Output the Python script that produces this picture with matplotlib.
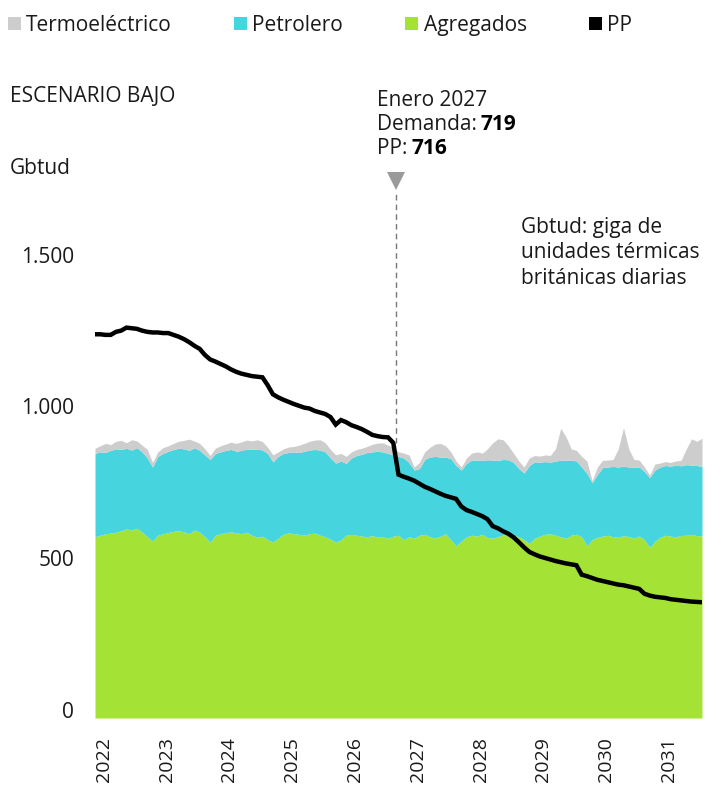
import numpy as np
import matplotlib
matplotlib.use("Agg")
import matplotlib.pyplot as plt
from matplotlib.patches import Patch

plt.rcParams['font.family'] = ['Open Sans', 'DejaVu Sans']

# ---- data (Gbtud, monthly from Jan 2022) ----
agregados = [570, 575, 580, 582, 585, 590, 596, 592, 598, 585, 570, 556,
             575, 580, 584, 588, 590, 586, 580, 592, 585, 570, 552, 575,
             580, 584, 586, 583, 580, 585, 575, 568, 572, 560, 553, 565,
             578, 583, 580, 578, 576, 580, 582, 575, 570, 562, 552, 560,
             575, 578, 575, 572, 570, 574, 568, 570, 565, 572, 575, 560,
             570, 565, 575, 578, 570, 566, 572, 580, 560, 540, 556, 570,
             575, 572, 578, 568, 565, 570, 576, 582, 575, 570, 560, 548,
             565, 572, 578, 580, 575, 570, 565, 575, 578, 570, 540, 560,
             568, 572, 575, 570, 568, 574, 570, 566, 572, 560, 535, 555,
             568, 575, 572, 570, 574, 575, 578, 574, 572]

petrolero = [275, 275, 268, 273, 275, 268, 266, 264, 266, 265, 260, 244,
             260, 265, 268, 270, 272, 274, 275, 272, 270, 270, 273, 270,
             270, 271, 272, 269, 275, 275, 283, 292, 284, 285, 264, 270,
             267, 265, 270, 270, 276, 276, 276, 281, 280, 268, 261, 260,
             237, 252, 263, 270, 278, 276, 284, 280, 280, 268, 260, 270,
             245, 225, 220, 247, 263, 269, 261, 252, 268, 265, 234, 242,
             248, 251, 244, 256, 258, 252, 249, 242, 240, 225, 220, 257,
             252, 244, 240, 236, 245, 252, 258, 248, 242, 230, 240, 188,
             207, 226, 225, 232, 232, 229, 230, 234, 228, 225, 230, 235,
             232, 230, 231, 236, 230, 233, 228, 231, 230]

termoelectrico = [17, 20, 30, 19, 25, 30, 18, 34, 22, 22, 28, 15,
                  15, 19, 18, 20, 23, 28, 37, 22, 23, 20, 13, 17,
                  20, 21, 24, 26, 28, 29, 28, 30, 28, 20, 23, 15,
                  15, 18, 18, 24, 26, 29, 31, 34, 30, 28, 27, 25,
                  23, 20, 20, 20, 20, 25, 27, 30, 27, 25, 15, 16,
                  25, 10, 20, 25, 32, 41, 45, 38, 22, 15, 10, 18,
                  23, 27, 24, 36, 57, 71, 65, 46, 30, 25, 20, 25,
                  21, 20, 22, 22, 40, 106, 77, 37, 35, 35, 40, 7,
                  25, 24, 23, 23, 60, 127, 60, 25, 23, 15, 9, 20,
                  13, 13, 12, 14, 18, 52, 87, 80, 93]

pp = [1238, 1238, 1236, 1236, 1246, 1250, 1260, 1258, 1256, 1250, 1246, 1244,
      1244, 1242, 1242, 1236, 1230, 1222, 1212, 1200, 1190, 1170, 1155, 1148,
      1140, 1132, 1122, 1114, 1108, 1104, 1100, 1098, 1096, 1070, 1040, 1030,
      1022, 1015, 1008, 1002, 996, 993, 985, 980, 975, 965, 940, 955,
      948, 938, 932, 925, 916, 906, 902, 899, 898, 880, 775, 768,
      762, 755, 745, 735, 728, 720, 712, 705, 700, 695, 670, 658,
      652, 645, 638, 628, 605, 598, 588, 580, 568, 552, 535, 520,
      512, 505, 500, 495, 490, 486, 482, 479, 476, 445, 440, 434,
      428, 424, 420, 416, 412, 410, 406, 402, 398, 382, 376, 372,
      370, 368, 364, 362, 360, 358, 356, 355, 354]

years = list(range(2022, 2032))
yticks = [0, 500, 1000, 1500]
ytick_labels = ['0', '500', '1.000', '1.500']
legend_labels = ['Termoeléctrico', 'Petrolero', 'Agregados', 'PP']

annot_date = 'Enero 2027'
annot_demanda = 719
annot_pp = 716

# ---- styling ----
C_GREEN = '#a4e236'
C_CYAN = '#46d4de'
C_GRAY = '#cdcdcd'
TXT = '#1a1a1a'
FS = 15

W, H = 710, 787
fig = plt.figure(figsize=(W / 100, H / 100), dpi=100)
fig.patch.set_facecolor('white')

def fx(px):
    return px / W

def fy(py):
    return 1 - py / H

ax = fig.add_axes([fx(95), fy(718), fx(702) - fx(95), fy(170) - fy(718)])

n = len(pp)
x = 2022 + np.arange(n) / 12.0
ag = np.array(agregados, float)
pe = np.array(petrolero, float)
te = np.array(termoelectrico, float)

y_low = -28
ax.set_xlim(x[0], x[-1])
ax.set_ylim(y_low, 1780)

ax.fill_between(x, y_low, ag, color=C_GREEN, lw=0, zorder=1)
ax.fill_between(x, ag, ag + pe, color=C_CYAN, lw=0, zorder=1)
ax.fill_between(x, ag + pe, ag + pe + te, color=C_GRAY, lw=0, zorder=1)
ax.plot(x, pp, color='black', lw=3.2, solid_joinstyle='miter', zorder=3)

# annotation line + triangle
i_drop = int(np.argmax(-np.diff(pp)))
x_ann = (x[i_drop] + x[i_drop + 1]) / 2
ax.plot([x_ann, x_ann], [pp[i_drop], 1700], color='#777777', lw=1.0,
        ls=(0, (4, 3)), zorder=2, clip_on=False)
ax.plot([x_ann], [1745], marker='v', markersize=13, color='#9a9a9a',
        markeredgewidth=0, clip_on=False, zorder=4)

for s in ax.spines.values():
    s.set_visible(False)
ax.set_yticks(yticks)
ax.set_yticklabels(ytick_labels)
ax.set_xticks([yv + 0.14 for yv in years])
ax.set_xticklabels([str(yv) for yv in years], rotation=90, va='top')
ax.tick_params(axis='both', length=0, colors=TXT)
ax.tick_params(axis='y', pad=15, labelsize=FS)
ax.tick_params(axis='x', pad=14, labelsize=14)

# legend
handles = [Patch(facecolor=C_GRAY, edgecolor='none'),
           Patch(facecolor=C_CYAN, edgecolor='none'),
           Patch(facecolor=C_GREEN, edgecolor='none'),
           Patch(facecolor='black', edgecolor='none')]
fig.legend(handles, legend_labels, loc='upper left',
           bbox_to_anchor=(fx(-8), fy(-1)), ncol=4, frameon=False,
           fontsize=FS, handlelength=0.62, handleheight=0.62,
           handletextpad=0.25, columnspacing=3.0, borderpad=0.25,
           labelcolor=TXT)

# texts
fig.text(fx(10), fy(96), 'ESCENARIO BAJO', fontsize=FS, color=TXT, va='center')
fig.text(fx(10), fy(168), 'Gbtud', fontsize=FS, color=TXT, va='center')
fig.text(fx(377), fy(100), annot_date, fontsize=FS, color=TXT, va='center')
t1 = fig.text(fx(377), fy(125), 'Demanda: ', fontsize=FS, color=TXT, va='center')
t2 = fig.text(fx(377), fy(148), 'PP: ', fontsize=FS, color=TXT, va='center')
fig.canvas.draw()
r = fig.canvas.get_renderer()
b1 = t1.get_window_extent(r)
b2 = t2.get_window_extent(r)
fig.text(b1.x1 / W - 0.002, fy(125), str(annot_demanda), fontsize=FS,
         fontweight='bold', color='black', va='center')
fig.text(b2.x1 / W - 0.002, fy(148), str(annot_pp), fontsize=FS,
         fontweight='bold', color='black', va='center')

fig.text(fx(521), fy(228), 'Gbtud: giga de', fontsize=FS, color=TXT, va='center')
fig.text(fx(521), fy(253), 'unidades térmicas', fontsize=FS, color=TXT, va='center')
fig.text(fx(521), fy(279), 'británicas diarias', fontsize=FS, color=TXT, va='center')

fig.savefig('out.png', dpi=100, facecolor='white')
